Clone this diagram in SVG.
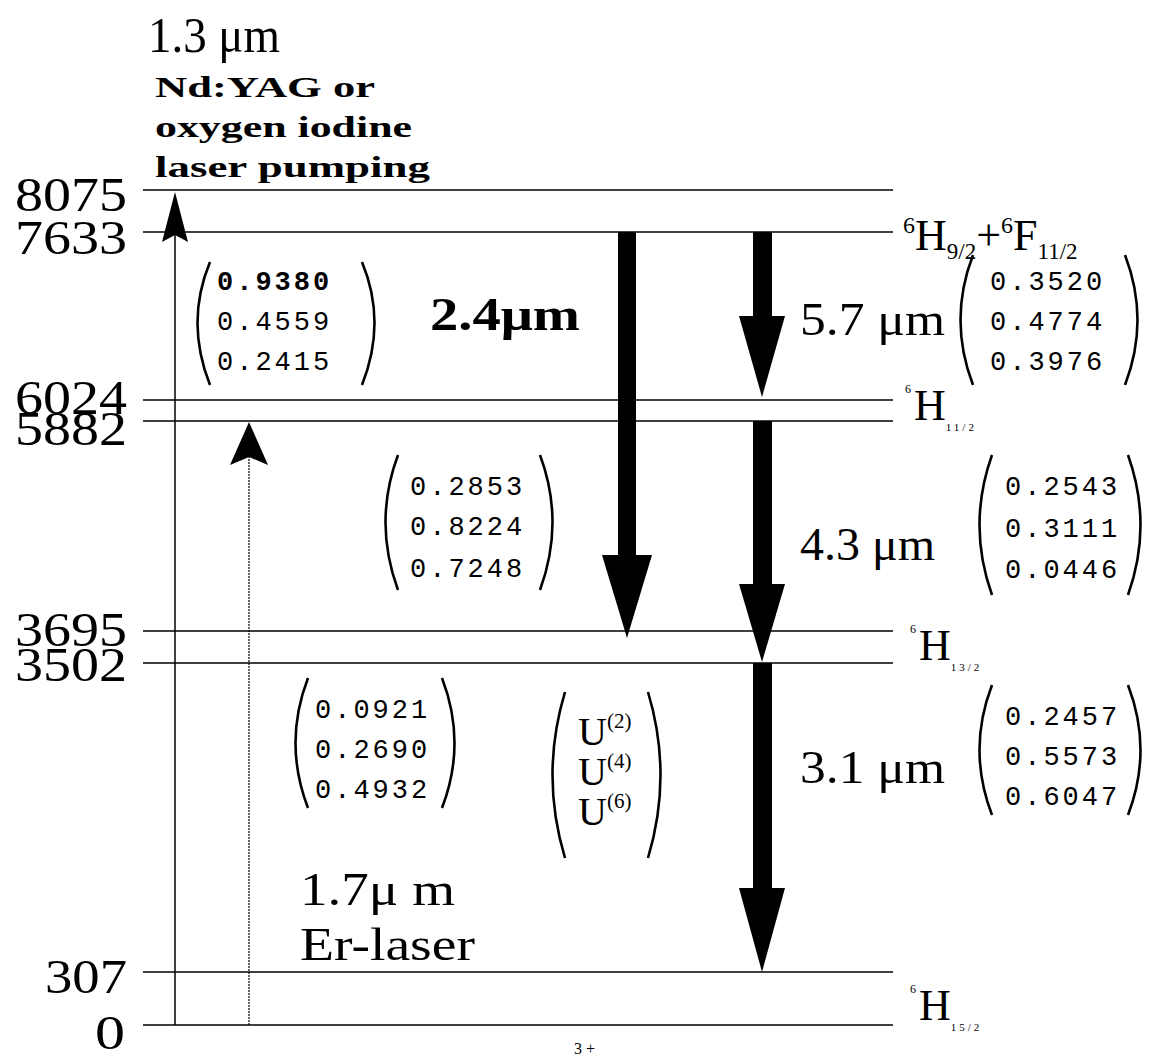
<svg xmlns="http://www.w3.org/2000/svg" width="1149" height="1057" viewBox="0 0 1149 1057">
<style>
.lvl{stroke:#000;stroke-width:1.6;fill:none}
.num{font-family:"Liberation Serif",serif;font-size:48px;fill:#000}
.mat{font-family:"Liberation Mono",monospace;font-size:27px;letter-spacing:3px;fill:#000}
.par{stroke:#000;stroke-width:2.6;fill:none}
.lab{font-family:"Liberation Serif",serif;fill:#000}
.big{fill:#000}
</style>
<rect width="1149" height="1057" fill="#fff"/>
<g id="title">
<text class="lab" x="148" y="52" font-size="50" textLength="132" lengthAdjust="spacingAndGlyphs">1.3 μm</text>
<text class="lab" x="155" y="97" font-size="30" font-weight="bold" textLength="220" lengthAdjust="spacingAndGlyphs">Nd:YAG or</text>
<text class="lab" x="155" y="137" font-size="30" font-weight="bold" textLength="257" lengthAdjust="spacingAndGlyphs">oxygen iodine</text>
<text class="lab" x="155" y="177" font-size="30" font-weight="bold" textLength="275" lengthAdjust="spacingAndGlyphs">laser pumping</text>
</g>
<g id="levels">
<line class="lvl" x1="143" y1="190" x2="893" y2="190"/>
<line class="lvl" x1="143" y1="232" x2="893" y2="232"/>
<line class="lvl" x1="143" y1="400" x2="893" y2="400"/>
<line class="lvl" x1="143" y1="421" x2="893" y2="421"/>
<line class="lvl" x1="143" y1="631" x2="893" y2="631"/>
<line class="lvl" x1="143" y1="663" x2="893" y2="663"/>
<line class="lvl" x1="143" y1="972" x2="893" y2="972"/>
<line class="lvl" x1="143" y1="1025" x2="893" y2="1025"/>
</g>
<g id="energies">
<text class="num" x="15" y="211" textLength="112" lengthAdjust="spacingAndGlyphs">8075</text>
<text class="num" x="15" y="254" textLength="112" lengthAdjust="spacingAndGlyphs">7633</text>
<text class="num" x="15" y="414" textLength="112" lengthAdjust="spacingAndGlyphs">6024</text>
<text class="num" x="15" y="445" textLength="112" lengthAdjust="spacingAndGlyphs">5882</text>
<text class="num" x="15" y="646" textLength="112" lengthAdjust="spacingAndGlyphs">3695</text>
<text class="num" x="15" y="681" textLength="112" lengthAdjust="spacingAndGlyphs">3502</text>
<text class="num" x="45" y="993" textLength="82" lengthAdjust="spacingAndGlyphs">307</text>
<text class="num" x="95" y="1049" textLength="30" lengthAdjust="spacingAndGlyphs">0</text>
</g>
<g id="state-H9F11">
<text class="lab" x="903" y="250" font-size="44"><tspan font-size="24" dy="-17">6</tspan><tspan dy="17">H</tspan><tspan font-size="23" dy="9">9/2</tspan><tspan dy="-9">+</tspan><tspan font-size="24" dy="-17">6</tspan><tspan dy="17">F</tspan><tspan font-size="23" dy="9">11/2</tspan></text>
</g>
<g id="state-H11">
<text class="lab" x="905" y="420" font-size="44"><tspan font-size="12" dy="-27">6</tspan><tspan dx="3" dy="27">H</tspan><tspan font-size="11" dy="11" letter-spacing="3">11/2</tspan></text>
</g>
<g id="state-H13">
<text class="lab" x="910" y="660" font-size="44"><tspan font-size="12" dy="-27">6</tspan><tspan dx="3" dy="27">H</tspan><tspan font-size="11" dy="11" letter-spacing="3">13/2</tspan></text>
</g>
<g id="state-H15">
<text class="lab" x="910" y="1020" font-size="44"><tspan font-size="12" dy="-27">6</tspan><tspan dx="3" dy="27">H</tspan><tspan font-size="11" dy="11" letter-spacing="3">15/2</tspan></text>
</g>
<g id="connectors">
<line x1="175" y1="235" x2="175" y2="1025" stroke="#000" stroke-width="1.5"/>
<polygon points="175,192 188,242 175,235 162,242" fill="#000"/>
<line x1="249" y1="456" x2="249" y2="1025" stroke="#000" stroke-width="1.2" stroke-dasharray="2,1"/>
<polygon points="249,422 268,465 249,457 230,465" fill="#000"/>
<rect class="big" x="618" y="232" width="18" height="324"/>
<polygon class="big" points="602,555 652,555 627,638"/>
<rect class="big" x="753" y="232" width="19" height="85"/>
<polygon class="big" points="739,316 785,316 762,397"/>
<rect class="big" x="753" y="421" width="19" height="164"/>
<polygon class="big" points="739,584 785,584 762,662"/>
<rect class="big" x="753" y="663" width="19" height="226"/>
<polygon class="big" points="739,888 785,888 762,972"/>
</g>
<g id="wavelengths">
<text class="lab" x="430" y="330" font-size="46" font-weight="bold" textLength="150" lengthAdjust="spacingAndGlyphs">2.4μm</text>
<text class="lab" x="800" y="335" font-size="46" textLength="145" lengthAdjust="spacingAndGlyphs">5.7 μm</text>
<text class="lab" x="800" y="560" font-size="46" textLength="135" lengthAdjust="spacingAndGlyphs">4.3 μm</text>
<text class="lab" x="800" y="783" font-size="46" textLength="145" lengthAdjust="spacingAndGlyphs">3.1 μm</text>
<text class="lab" x="300" y="905" font-size="46" textLength="155" lengthAdjust="spacingAndGlyphs">1.7μ m</text>
<text class="lab" x="300" y="960" font-size="46" textLength="175" lengthAdjust="spacingAndGlyphs">Er-laser</text>
</g>
<g id="matrix-1">
<path class="par" d="M210,262 Q185,322 210,385"/>
<path class="par" d="M362,262 Q387,322 362,385"/>
<text class="mat" x="217" y="290" font-weight="bold">0.9380</text>
<text class="mat" x="217" y="330">0.4559</text>
<text class="mat" x="217" y="370">0.2415</text>
</g>
<g id="matrix-2">
<path class="par" d="M398,455 Q373,522 398,590"/>
<path class="par" d="M540,455 Q565,522 540,590"/>
<text class="mat" x="410" y="495">0.2853</text>
<text class="mat" x="410" y="535">0.8224</text>
<text class="mat" x="410" y="577">0.7248</text>
</g>
<g id="matrix-3">
<path class="par" d="M308,678 Q283,743 308,808"/>
<path class="par" d="M442,678 Q467,743 442,808"/>
<text class="mat" x="315" y="718">0.0921</text>
<text class="mat" x="315" y="758">0.2690</text>
<text class="mat" x="315" y="798">0.4932</text>
</g>
<g id="matrix-U">
<path class="par" d="M565,692 Q540,775 565,858"/>
<path class="par" d="M648,692 Q673,775 648,858"/>
<text class="lab" x="578" y="745" font-size="40">U<tspan font-size="21" dy="-17">(2)</tspan></text>
<text class="lab" x="578" y="785" font-size="40">U<tspan font-size="21" dy="-17">(4)</tspan></text>
<text class="lab" x="578" y="825" font-size="40">U<tspan font-size="21" dy="-17">(6)</tspan></text>
</g>
<g id="matrix-4">
<path class="par" d="M973,255 Q948,320 973,385"/>
<path class="par" d="M1125,255 Q1150,320 1125,385"/>
<text class="mat" x="990" y="290">0.3520</text>
<text class="mat" x="990" y="330">0.4774</text>
<text class="mat" x="990" y="370">0.3976</text>
</g>
<g id="matrix-5">
<path class="par" d="M992,455 Q967,525 992,595"/>
<path class="par" d="M1128,455 Q1153,525 1128,595"/>
<text class="mat" x="1005" y="495">0.2543</text>
<text class="mat" x="1005" y="537">0.3111</text>
<text class="mat" x="1005" y="578">0.0446</text>
</g>
<g id="matrix-6">
<path class="par" d="M992,685 Q967,750 992,815"/>
<path class="par" d="M1128,685 Q1153,750 1128,815"/>
<text class="mat" x="1005" y="725">0.2457</text>
<text class="mat" x="1005" y="765">0.5573</text>
<text class="mat" x="1005" y="805">0.6047</text>
</g>
<g id="caption">
<text class="lab" x="574" y="1054" font-size="16">3 +</text>
</g>
</svg>
